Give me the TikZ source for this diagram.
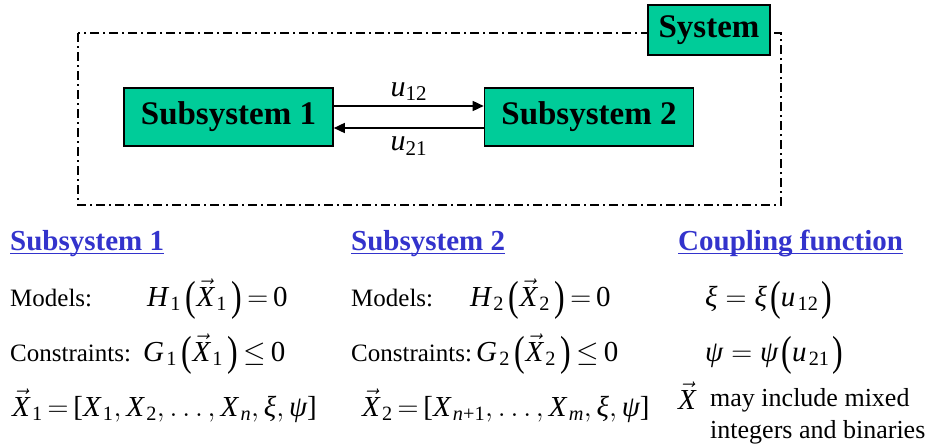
\RequirePackage{fix-cm}
\documentclass[tikz,border=0pt]{standalone}
\usepackage{amsmath}
\usepackage{graphicx}
\usepackage{fontspec}
\setmainfont{Liberation Serif}
\usetikzlibrary{arrows.meta}
\definecolor{boxgreen}{RGB}{0,204,153}
\definecolor{headblue}{RGB}{51,51,204}
\newcommand\mi[1]{\text{\itshape #1}}
\newcommand\vX{\vec{\mi{X}}}
\newcommand\tn[1]{\text{#1}}
\newcommand\sub[1]{_{\mkern2mu\text{#1}}}
\newcommand\lp{\mathopen{\raisebox{-0.17em}{\scalebox{1.1}[1.45]{(}}}}
\newcommand\rp{\mathclose{\raisebox{-0.17em}{\scalebox{1.1}[1.45]{)}}}}
\begin{document}
\begin{tikzpicture}[x=1pt,y=-1pt,
  greenbox/.style={draw=black, line width=1.6pt, fill=boxgreen, inner sep=0pt,
    font=\fontsize{33}{36}\selectfont\bfseries},
  heading/.style={anchor=base west, inner sep=0pt, text=headblue,
    font=\fontsize{29}{32}\selectfont\bfseries},
  uline/.style={draw=headblue, line width=1.6pt},
  body/.style={anchor=base west, inner sep=0pt, font=\fontsize{25}{30}\selectfont},
  eq/.style={anchor=base west, inner sep=0pt, font=\fontsize{29}{32}\selectfont},
  flow/.style={line width=1.5pt, -{Triangle[length=11pt,width=10pt]}},
  frame/.style={line width=1.8pt, dash pattern=on 9pt off 4pt on 2pt off 4pt}
]
\useasboundingbox (0,0) rectangle (931,447);

% system frame
\draw[frame] (78,33) rectangle (781,205);
\node[greenbox, minimum width=122pt, minimum height=50pt] (sys) at (709,30) {System};

% subsystems
\node[greenbox, minimum width=209pt, minimum height=58pt] (s1) at (228.5,117) {Subsystem 1};
\node[greenbox, minimum width=209pt, minimum height=58pt] (s2) at (589,117) {Subsystem 2};

\draw[flow] ([yshift=11pt]s1.east) -- ([yshift=11pt]s2.west)
  node[midway, above=1pt, font=\fontsize{30}{32}\selectfont] (u12) {$\mi{u}_{\text{12}}$};
\draw[flow] ([yshift=-11pt]s2.west) -- ([yshift=-11pt]s1.east)
  node[midway, below=5pt, font=\fontsize{30}{32}\selectfont] (u21) {$\mi{u}_{\text{21}}$};

% headings
\node[heading] (h1) at (10,250) {Subsystem 1};
\node[heading] (h2) at (351,250) {Subsystem 2};
\node[heading] (h3) at (678,250) {Coupling function};
\foreach \h in {h1,h2,h3}
  \draw[uline] ([yshift=-3.5pt]\h.base west) -- ([yshift=-3.5pt]\h.base east);

% column 1
\node[body] (m1) at (10,306) {Models:};
\node[eq] (m1e) at (147,306) {$\mi{H}\sub{1}\mkern3mu\lp\vX\sub{1}\mkern3mu\rp\mkern-2mu=\mkern-2mu\tn{0}$};
\node[body] (c1) at (10,361) {Constraints:};
\node[eq] (c1e) at (143,361) {$\mi{G}\sub{1}\mkern3mu\lp\vX\sub{1}\mkern3mu\rp\mkern-2mu\le\mkern-2mu\tn{0}$};
\node[eq] (x1) at (12,416) {$\vX\sub{1}\mkern-2mu=\mkern-2mu\tn{[}\mi{X}\sub{1},\mi{X}\sub{2},\ldots,\mi{X}\sub{\itshape n},\mi{ξ},\mi{ψ}\tn{]}$};

% column 2
\node[body] (m2) at (351,306) {Models:};
\node[eq] (m2e) at (470,306) {$\mi{H}\sub{2}\mkern3mu\lp\vX\sub{2}\mkern3mu\rp\mkern-2mu=\mkern-2mu\tn{0}$};
\node[body] (c2) at (351,361) {Constraints:};
\node[eq] (c2e) at (476,361) {$\mi{G}\sub{2}\mkern3mu\lp\vX\sub{2}\mkern3mu\rp\mkern-2mu\le\mkern-2mu\tn{0}$};
\node[eq] (x2) at (362,416) {$\vX\sub{2}\mkern-2mu=\mkern-2mu\tn{[}\mi{X}\sub{\itshape n\upshape+1},\ldots,\mi{X}\sub{\itshape m},\mi{ξ},\mi{ψ}\tn{]}$};

% column 3
\node[eq] (k1) at (705,306) {$\mi{ξ}=\mi{ξ}\mkern2mu\lp\mi{u}\sub{12}\mkern2mu\rp$};
\node[eq] (k2) at (705,361) {$\mi{ψ}=\mi{ψ}\mkern2mu\lp\mi{u}\sub{21}\mkern2mu\rp$};
\node[eq] (xv) at (678,409) {$\vX$};
\node[body, align=left, anchor=north west, font=\fontsize{26}{32}\selectfont] (note) at (710,388) {may include mixed\\integers and binaries};
\end{tikzpicture}
\end{document}
